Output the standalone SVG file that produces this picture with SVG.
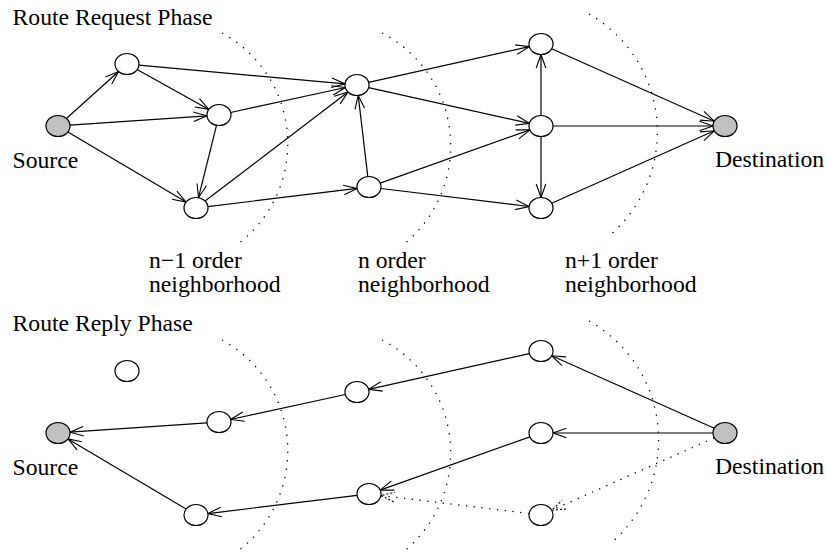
<svg xmlns="http://www.w3.org/2000/svg" width="826" height="555" viewBox="0 0 826 555">
  <defs>
    <style>
      .node { fill: #ffffff; stroke: #000000; stroke-width: 1.2; }
      .end { fill: #c0c0c0; stroke: #000000; stroke-width: 1.2; }
      .edge { fill: none; stroke: #000000; stroke-width: 1.2; marker-end: url(#arrow); }
      .weak { fill: none; stroke: #000000; stroke-width: 1.3; stroke-dasharray: 1.3 6.5; marker-end: url(#arrowDotted); }
      .zone { fill: none; stroke: #000000; stroke-width: 1.3; stroke-dasharray: 1.3 7.2; }
      .label { font-family: "Liberation Serif", "Times New Roman", serif; font-size: 23.7px; fill: #000000; }
    </style>
    <marker id="arrow" markerUnits="userSpaceOnUse" markerWidth="20" markerHeight="14" refX="15" refY="7" orient="auto" overflow="visible">
      <path d="M1.5,2.2 L15,7 L1.5,11.8" fill="none" stroke="#000000" stroke-width="1.1"/>
    </marker>
    <marker id="arrowDotted" markerUnits="userSpaceOnUse" markerWidth="20" markerHeight="14" refX="15" refY="7" orient="auto" overflow="visible">
      <path d="M1.5,2.2 L15,7 L1.5,11.8" fill="none" stroke="#000000" stroke-width="1.1" stroke-dasharray="2 2"/>
    </marker>
  </defs>

  <!-- neighborhood boundaries -->
  <g id="zones">
    <path class="zone" d="M222,33 A126,126 0 0 1 238,244"/>
    <path class="zone" d="M382,33 A127,127 0 0 1 403,245"/>
    <path class="zone" d="M589,14 A136,136 0 0 1 609,236"/>
    <path class="zone" d="M222,340 A126,126 0 0 1 238,551"/>
    <path class="zone" d="M382,340 A127,127 0 0 1 403,552"/>
    <path class="zone" d="M589,321 A136,136 0 0 1 611,543"/>
  </g>

  <!-- connectors -->
  <g id="connectors">
    <!-- route request -->
    <line class="edge" x1="66.4" y1="118.5" x2="118.6" y2="71.5"/>
    <line class="edge" x1="70" y1="125.2" x2="207" y2="115.8"/>
    <line class="edge" x1="67.9" y1="131.9" x2="186.1" y2="202.1"/>
    <line class="edge" x1="137.1" y1="69.6" x2="208.9" y2="109.4"/>
    <line class="edge" x1="138.9" y1="65.1" x2="345.1" y2="83.9"/>
    <line class="edge" x1="230.6" y1="112.5" x2="345.4" y2="87.5"/>
    <line class="edge" x1="216.5" y1="125.3" x2="198.5" y2="197.7"/>
    <line class="edge" x1="205" y1="201.1" x2="348" y2="91.9"/>
    <line class="edge" x1="207.9" y1="206.6" x2="357.1" y2="188.4"/>
    <line class="edge" x1="367.8" y1="176.6" x2="358.2" y2="95.4"/>
    <line class="edge" x1="368.6" y1="82.4" x2="529.4" y2="46.6"/>
    <line class="edge" x1="368.6" y1="87.6" x2="529.4" y2="123.4"/>
    <line class="edge" x1="380.1" y1="183.1" x2="529.9" y2="129.9"/>
    <line class="edge" x1="380.9" y1="188.5" x2="529.1" y2="206.5"/>
    <line class="edge" x1="541" y1="115.5" x2="541" y2="54.5"/>
    <line class="edge" x1="541" y1="136.5" x2="541" y2="197.5"/>
    <line class="edge" x1="551.7" y1="48.8" x2="714.3" y2="121.2"/>
    <line class="edge" x1="553" y1="126" x2="713" y2="126"/>
    <line class="edge" x1="551.7" y1="203.2" x2="714.3" y2="130.8"/>
    <!-- route reply -->
    <line class="edge" x1="207" y1="422.8" x2="70" y2="432.2"/>
    <line class="edge" x1="186.1" y1="509.1" x2="67.9" y2="438.9"/>
    <line class="edge" x1="345.4" y1="394.5" x2="230.6" y2="419.5"/>
    <line class="edge" x1="357.1" y1="495.4" x2="207.9" y2="513.6"/>
    <line class="edge" x1="529.4" y1="353.6" x2="368.6" y2="389.4"/>
    <line class="edge" x1="529.9" y1="436.9" x2="380.1" y2="490.1"/>
    <line class="weak" x1="529.1" y1="513.5" x2="380.9" y2="495.5"/>
    <line class="edge" x1="714.3" y1="428.2" x2="551.7" y2="355.8"/>
    <line class="edge" x1="713" y1="433" x2="553" y2="433"/>
    <line class="weak" x1="714.3" y1="437.8" x2="551.7" y2="510.2"/>
  </g>

  <!-- route request nodes -->
  <g id="req-source"><ellipse class="end" cx="58" cy="126" rx="12" ry="10.5"/></g>
  <g id="req-a"><ellipse class="node" cx="127" cy="64" rx="12" ry="10.5"/></g>
  <g id="req-b"><ellipse class="node" cx="219" cy="115" rx="12" ry="10.5"/></g>
  <g id="req-c"><ellipse class="node" cx="196" cy="208" rx="12" ry="10.5"/></g>
  <g id="req-d"><ellipse class="node" cx="357" cy="85" rx="12" ry="10.5"/></g>
  <g id="req-e"><ellipse class="node" cx="369" cy="187" rx="12" ry="10.5"/></g>
  <g id="req-f"><ellipse class="node" cx="541" cy="44" rx="12" ry="10.5"/></g>
  <g id="req-g"><ellipse class="node" cx="541" cy="126" rx="12" ry="10.5"/></g>
  <g id="req-h"><ellipse class="node" cx="541" cy="208" rx="12" ry="10.5"/></g>
  <g id="req-dest"><ellipse class="end" cx="725" cy="126" rx="12" ry="10.5"/></g>

  <!-- route reply nodes -->
  <g id="rep-source"><ellipse class="end" cx="58" cy="433" rx="12" ry="10.5"/></g>
  <g id="rep-a"><ellipse class="node" cx="127" cy="371" rx="12" ry="10.5"/></g>
  <g id="rep-b"><ellipse class="node" cx="219" cy="422" rx="12" ry="10.5"/></g>
  <g id="rep-c"><ellipse class="node" cx="196" cy="515" rx="12" ry="10.5"/></g>
  <g id="rep-d"><ellipse class="node" cx="357" cy="392" rx="12" ry="10.5"/></g>
  <g id="rep-e"><ellipse class="node" cx="369" cy="494" rx="12" ry="10.5"/></g>
  <g id="rep-f"><ellipse class="node" cx="541" cy="351" rx="12" ry="10.5"/></g>
  <g id="rep-g"><ellipse class="node" cx="541" cy="433" rx="12" ry="10.5"/></g>
  <g id="rep-h"><ellipse class="node" cx="541" cy="515" rx="12" ry="10.5"/></g>
  <g id="rep-dest"><ellipse class="end" cx="725" cy="433" rx="12" ry="10.5"/></g>

  <!-- labels -->
  <g id="labels">
    <text class="label" x="12.5" y="25">Route Request Phase</text>
    <text class="label" x="12.5" y="167.5">Source</text>
    <text class="label" x="715" y="167">Destination</text>
    <text class="label" x="149" y="268">n−1 order</text>
    <text class="label" x="149" y="292">neighborhood</text>
    <text class="label" x="358" y="268">n order</text>
    <text class="label" x="358" y="292">neighborhood</text>
    <text class="label" x="565" y="268">n+1 order</text>
    <text class="label" x="565" y="292">neighborhood</text>
    <text class="label" x="12.5" y="331">Route Reply Phase</text>
    <text class="label" x="12.5" y="474.5">Source</text>
    <text class="label" x="715" y="474">Destination</text>
  </g>
</svg>
